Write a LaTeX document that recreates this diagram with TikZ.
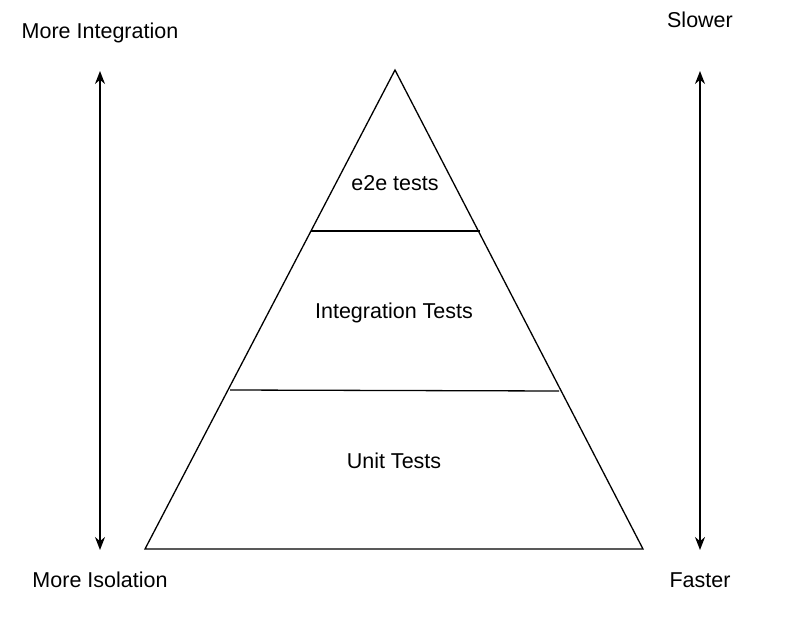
\documentclass[tikz,border=0pt]{standalone}
\usepackage{fontspec}
\setmainfont{Liberation Sans}
\usetikzlibrary{arrows.meta}
\begin{document}
\begin{tikzpicture}[x=1pt,y=-1pt,
  lbl/.style={anchor=base,inner sep=0pt,font=\fontsize{21.5}{26}\selectfont},
  edge/.style={line width=1.3pt,line join=miter},
  axis/.style={line width=1.5pt,{Stealth[length=13pt,width=10pt]}-{Stealth[length=13pt,width=10pt]}}]
\useasboundingbox[fill=white] (0,0) rectangle (801,624);
% pyramid corners
\coordinate (apex) at (395,70);
\coordinate (bl) at (145,549);
\coordinate (br) at (643,549);
\coordinate (l1a) at (311,231);
\coordinate (l1b) at (480,231);
\coordinate (l2a) at (230,390);
\coordinate (l2b) at (559,391);
\draw[edge] (apex) -- (bl) -- (br) -- cycle;
\draw[edge] (l1a) -- (l1b);
\draw[edge] (l2a) -- (l2b);
% arrows
\coordinate (la) at (100,71);
\coordinate (lb) at (100,550);
\coordinate (ra) at (700,71);
\coordinate (rb) at (700,550);
\draw[axis] (la) -- (lb);
\draw[axis] (ra) -- (rb);
% labels
\node[lbl] (mi) at (100,38.5) {More Integration};
\node[lbl] (slow) at (700,27.5) {Slower};
\node[lbl] (miso) at (100,587.5) {More Isolation};
\node[lbl] (fast) at (700,587.5) {Faster};
\node[lbl] (e2e) at (395,190) {e2e tests};
\node[lbl] (it) at (394,318) {Integration Tests};
\node[lbl] (ut) at (394,468) {Unit Tests};
\end{tikzpicture}
\end{document}
